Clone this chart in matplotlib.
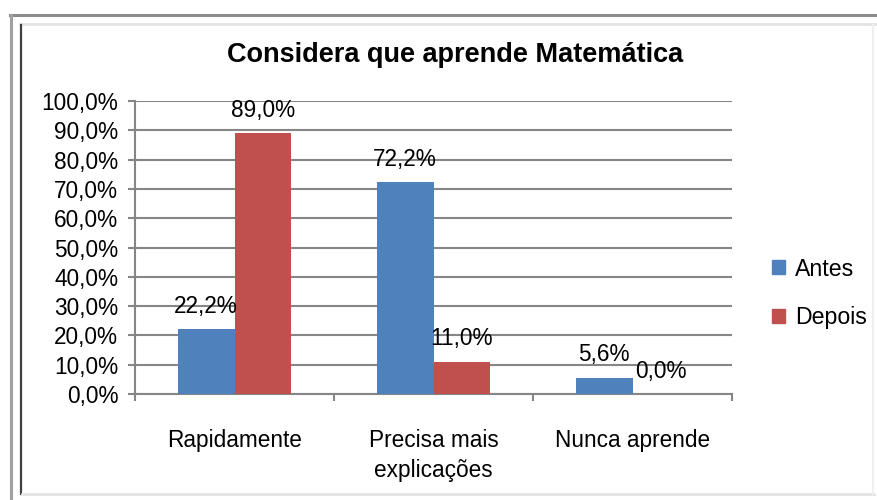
import matplotlib
matplotlib.use("Agg")
import matplotlib.pyplot as plt
from matplotlib.patches import Rectangle
from matplotlib.lines import Line2D
import numpy as np

plt.rcParams['font.family'] = ['Liberation Sans', 'DejaVu Sans']

categories = ["Rapidamente", "Precisa mais\nexplicações", "Nunca aprende"]
series_names = ["Antes", "Depois"]
antes = [22.2, 72.2, 5.6]
depois = [89.0, 11.0, 0.0]
yticks = [0, 10, 20, 30, 40, 50, 60, 70, 80, 90, 100]
colors = ["#4F81BD", "#C0504D"]
title = "Considera que aprende Matemática"

W, H = 878, 500
fig = plt.figure(figsize=(W / 100, H / 100), dpi=100)
FS = 16.3

# Frame
def fx(x): return x / W
def fy(y): return 1 - y / H
fig.add_artist(Line2D([fx(10), fx(878)], [fy(15), fy(15)], color="#8c8c8c", lw=2.2))
fig.add_artist(Line2D([fx(11), fx(11)], [fy(15), fy(500)], color="#a0a0a0", lw=2.2))
fig.add_artist(Line2D([fx(20), fx(878)], [fy(24), fy(24)], color="#e4e4e4", lw=2.0))
fig.add_artist(Line2D([fx(21.5), fx(21.5)], [fy(25), fy(494)], color="#404040", lw=1.6))
fig.add_artist(Line2D([fx(22), fx(874)], [fy(494), fy(494)], color="#e4e4e4", lw=2.0))
fig.add_artist(Line2D([fx(873.5), fx(873.5)], [fy(25), fy(494)], color="#f0f0f0", lw=1.5))

left, right, top, bottom = 135, 732, 101, 394
ax = fig.add_axes([left / W, 1 - bottom / H, (right - left) / W, (bottom - top) / H])

n = len(categories)
x = np.arange(n)
bw = 1 / 3.5
b1 = ax.bar(x - bw / 2, antes, width=bw, color=colors[0], label=series_names[0], zorder=3)
b2 = ax.bar(x + bw / 2, depois, width=bw, color=colors[1], label=series_names[1], zorder=3)

for bars, vals in ((b1, antes), (b2, depois)):
    for r, v in zip(bars, vals):
        ax.annotate(f"{v:.1f}%".replace(".", ","), (r.get_x() + r.get_width() / 2, v),
                    xytext=(0, 16.5), textcoords="offset points", ha="center", va="center",
                    fontsize=FS, color="black", zorder=4)

ax.set_xlim(-0.5, n - 0.5)
ax.set_ylim(0, 100)
ax.set_yticks(yticks)
ax.set_yticklabels([f"{v:.1f}%".replace(".", ",") for v in yticks], fontsize=FS)
ax.yaxis.grid(True, color="#868686", lw=1.5, zorder=0)
ax.set_axisbelow(True)

ax.set_xticks(x)
ax.set_xticklabels(categories, fontsize=FS, linespacing=1.4)
ax.set_xticks(np.arange(n + 1) - 0.5, minor=True)
ax.tick_params(axis="x", which="major", length=0, pad=25)
ax.tick_params(axis="x", which="minor", length=5, width=1.5, color="#868686", direction="out")
ax.tick_params(axis="y", length=5, width=1.5, color="#868686", pad=7)

for s in ("top", "right"):
    ax.spines[s].set_visible(False)
for s in ("left", "bottom"):
    ax.spines[s].set_color("#868686")
    ax.spines[s].set_linewidth(1.5)

fig.text(455 / W, fy(55), title, ha="center", va="center", fontsize=19.5,
         fontweight="bold")

handles = [Rectangle((0, 0), 1, 1, color=c) for c in colors]
fig.legend(handles, series_names, loc="upper left", bbox_to_anchor=(772 / W, fy(257.5)),
           frameon=False, fontsize=FS + 0.4, handlelength=0.55, handleheight=0.55,
           handletextpad=0.45, labelspacing=1.1, borderaxespad=0, borderpad=0)

fig.savefig("out.png", dpi=100, facecolor="white")
